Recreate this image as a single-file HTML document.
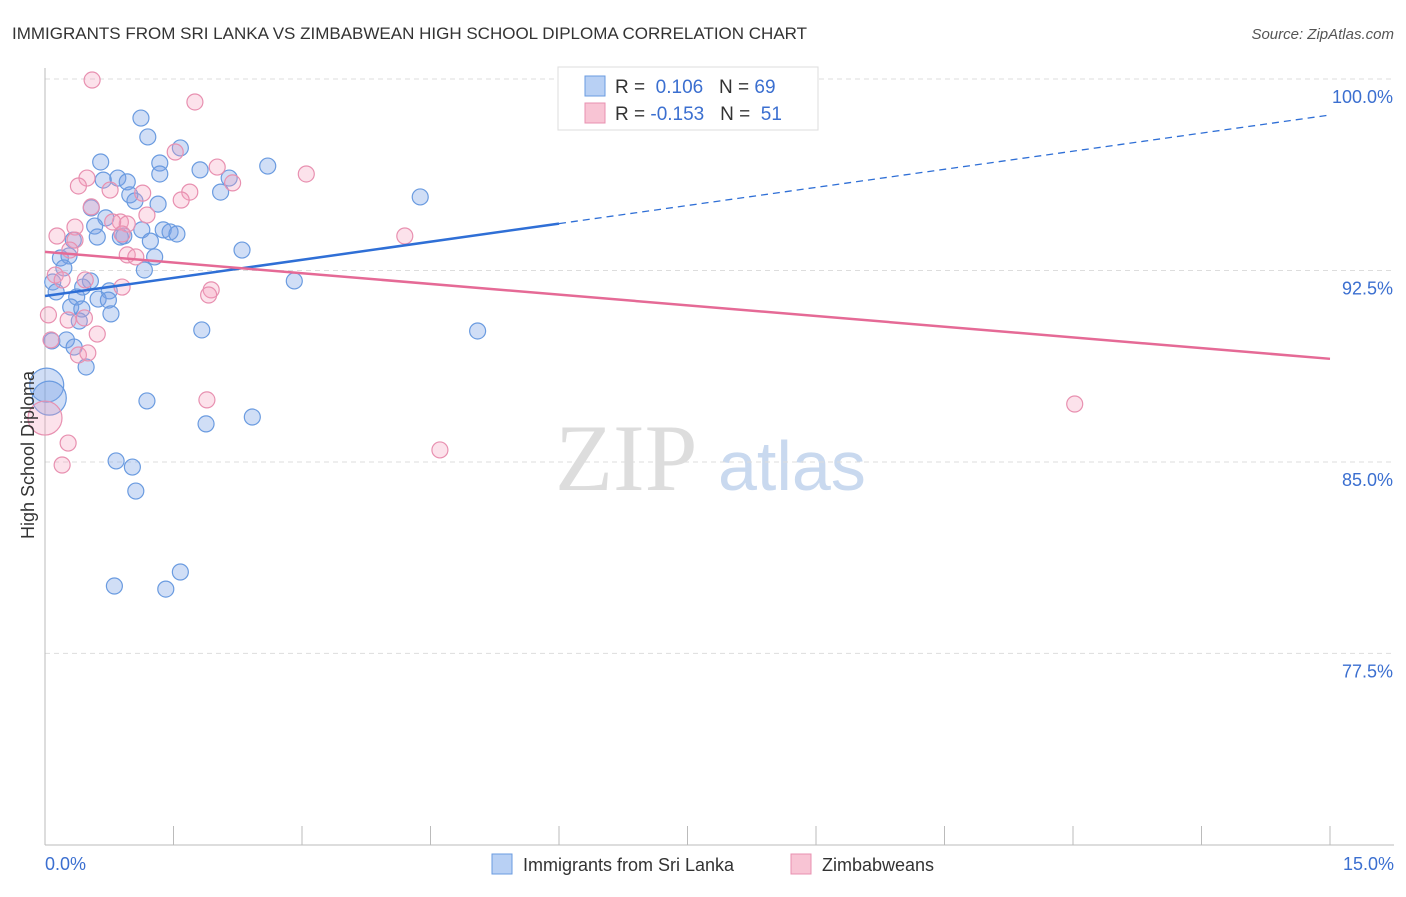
<!DOCTYPE html>
<html><head><meta charset="utf-8"><style>
body{margin:0;background:#fff;font-family:"Liberation Sans",sans-serif}
</style></head><body>
<svg width="1406" height="892" xmlns="http://www.w3.org/2000/svg">
<text x="12" y="39" font-size="17" fill="#333">IMMIGRANTS FROM SRI LANKA VS ZIMBABWEAN HIGH SCHOOL DIPLOMA CORRELATION CHART</text>
<text x="1394" y="39" font-size="15" fill="#555" font-style="italic" text-anchor="end">Source: ZipAtlas.com</text>
<text x="555" y="490" font-size="95" fill="#ddd" font-family="Liberation Serif">ZIP</text>
<text x="718" y="490" font-size="70" fill="#c9d9ef">atlas</text>
<g id="grid"></g><g id="axes"></g><g id="pts"></g><g id="lines"></g>
<text transform="translate(34,455) rotate(-90)" font-size="18" fill="#333" text-anchor="middle">High School Diploma</text>
<text x="45" y="870" font-size="18" fill="#3b6fd0">0.0%</text>
<text x="1394" y="870" font-size="18" fill="#3b6fd0" text-anchor="end">15.0%</text>
<g>
<rect x="558" y="67" width="260" height="63" fill="#fff" stroke="#ddd"/>
<rect x="585" y="76" width="20" height="20" fill="#b8d0f4" stroke="#6a9be0"/>
<text x="615" y="93" font-size="19" fill="#333">R = <tspan fill="#3b6fd0">&#160;0.106</tspan>&#160;&#160;&#160;N = <tspan fill="#3b6fd0">69</tspan></text>
<rect x="585" y="103" width="20" height="20" fill="#f8c4d4" stroke="#e890b0"/>
<text x="615" y="120" font-size="19" fill="#333">R = <tspan fill="#3b6fd0">-0.153</tspan>&#160;&#160;&#160;N = <tspan fill="#3b6fd0">&#160;51</tspan></text>
</g>
<g>
<rect x="492" y="854" width="20" height="20" fill="#b8d0f4" stroke="#6a9be0"/>
<text x="523" y="871" font-size="18" fill="#333">Immigrants from Sri Lanka</text>
<rect x="791" y="854" width="20" height="20" fill="#f8c4d4" stroke="#e890b0"/>
<text x="822" y="871" font-size="18" fill="#333">Zimbabweans</text>
</g>
</svg>
<script>
const yTicks=[100,92.5,85,77.5];
const yTickLabels=["100.0%","92.5%","85.0%","77.5%"];
const xTicks=[0,1.5,3,4.5,6,7.5,9,10.5,12,13.5,15];
const blueX=[1.12,1.20,1.58,0.65,1.34,2.60,1.81,1.34,0.85,0.96,0.68,2.15,2.05,0.99,1.05,1.32,4.38,0.54,0.71,0.58,1.13,1.38,1.46,1.54,0.92,0.61,0.88,1.23,2.30,0.33,0.18,0.28,1.28,1.16,0.22,2.91,0.53,0.09,0.44,0.13,0.75,0.37,0.62,0.74,0.30,0.43,0.77,0.40,1.83,5.05,0.08,0.25,0.34,0.48,1.19,1.88,2.42,0.83,1.02,1.06,0.81,1.58,1.41,0.02,0.05];
const blueY=[98.47,97.73,97.30,96.75,96.71,96.59,96.44,96.28,96.12,95.97,96.04,96.12,95.57,95.46,95.22,95.10,95.38,94.95,94.56,94.24,94.09,94.09,94.01,93.93,93.85,93.81,93.81,93.65,93.30,93.69,92.99,93.07,93.03,92.52,92.60,92.09,92.09,92.05,91.85,91.66,91.70,91.46,91.38,91.34,91.07,90.99,90.80,90.52,90.17,90.13,89.74,89.78,89.50,88.72,87.39,86.49,86.76,85.04,84.80,83.86,80.14,80.69,80.02,88.01,87.50];
const pinkX=[0.55,1.75,1.52,2.01,0.49,0.39,3.05,2.19,1.14,1.69,0.76,1.59,0.54,1.19,0.35,0.88,0.96,0.79,0.90,0.14,0.35,4.20,0.29,0.96,1.06,0.12,0.20,0.47,0.90,1.94,1.91,0.04,0.27,0.46,0.61,0.07,0.39,0.50,1.89,12.02,0.27,4.61,0.20,0.0];
const pinkY=[99.96,99.10,97.14,96.55,96.12,95.81,96.28,95.93,95.53,95.57,95.65,95.26,94.99,94.67,94.20,94.40,94.32,94.40,93.93,93.85,93.69,93.85,93.30,93.11,93.03,92.32,92.13,92.13,91.85,91.74,91.54,90.76,90.56,90.64,90.01,89.78,89.19,89.27,87.43,87.27,85.74,85.47,84.88,86.72];
const blueTrend=[91.50,98.59];
const pinkTrend=[93.23,89.04];
const NS="http://www.w3.org/2000/svg";
const X=v=>45+v*(1285/15);
const Y=v=>79+(100-v)*25.53;
function mk(tag,attrs,parent){const e=document.createElementNS(NS,tag);for(const k in attrs)e.setAttribute(k,attrs[k]);document.getElementById(parent).appendChild(e);return e;}
yTicks.forEach((t,i)=>{
 const l=mk('line',{x1:45,x2:1394,y1:Y(t),y2:Y(t),stroke:'#ddd','stroke-dasharray':'5,4'},'grid');
 
 
 const tx=mk('text',{x:1393,y:Y(t)+24,'font-size':18,fill:'#3b6fd0','text-anchor':'end'},'grid');
 tx.textContent=yTickLabels[i];
 
 
});
const ax=mk('line',{x1:45,x2:1394,y1:845,y2:845,stroke:'#bbb'},'axes');


const ay=mk('line',{x1:45,x2:45,y1:68,y2:845,stroke:'#bbb'},'axes');


xTicks.forEach(t=>{
 const l=mk('line',{x1:X(t),x2:X(t),y1:826,y2:845,stroke:'#bbb'},'axes');
 
 
});
function dots(xs,ys,fill,stroke,name){
 xs.forEach((x,i)=>{
  const big=(x<0.06&&i>=xs.length-2&&name==='blue-point')||(name==='pink-point'&&i===xs.length-1);
  const c=mk('circle',{cx:X(x),cy:Y(ys[i]),r:big?17:8,fill:fill,stroke:stroke,'stroke-width':1.2},'pts');
  
  
 });
}
dots(blueX,blueY,'rgba(120,160,230,0.35)','#6a9be0','blue-point');
dots(pinkX,pinkY,'rgba(245,160,190,0.3)','#e890b0','pink-point');
const bm=blueTrend[0]+(blueTrend[1]-blueTrend[0])*6/15;
const b1=mk('line',{x1:X(0),y1:Y(blueTrend[0]),x2:X(6),y2:Y(bm),stroke:'#2f6fd6','stroke-width':2.5},'lines');


const b2=mk('line',{x1:X(6),y1:Y(bm),x2:X(15),y2:Y(blueTrend[1]),stroke:'#2f6fd6','stroke-width':1.3,'stroke-dasharray':'7,5'},'lines');


const p1=mk('line',{x1:X(0),y1:Y(pinkTrend[0]),x2:X(15),y2:Y(pinkTrend[1]),stroke:'#e56a96','stroke-width':2.5},'lines');


</script>
</body></html>
